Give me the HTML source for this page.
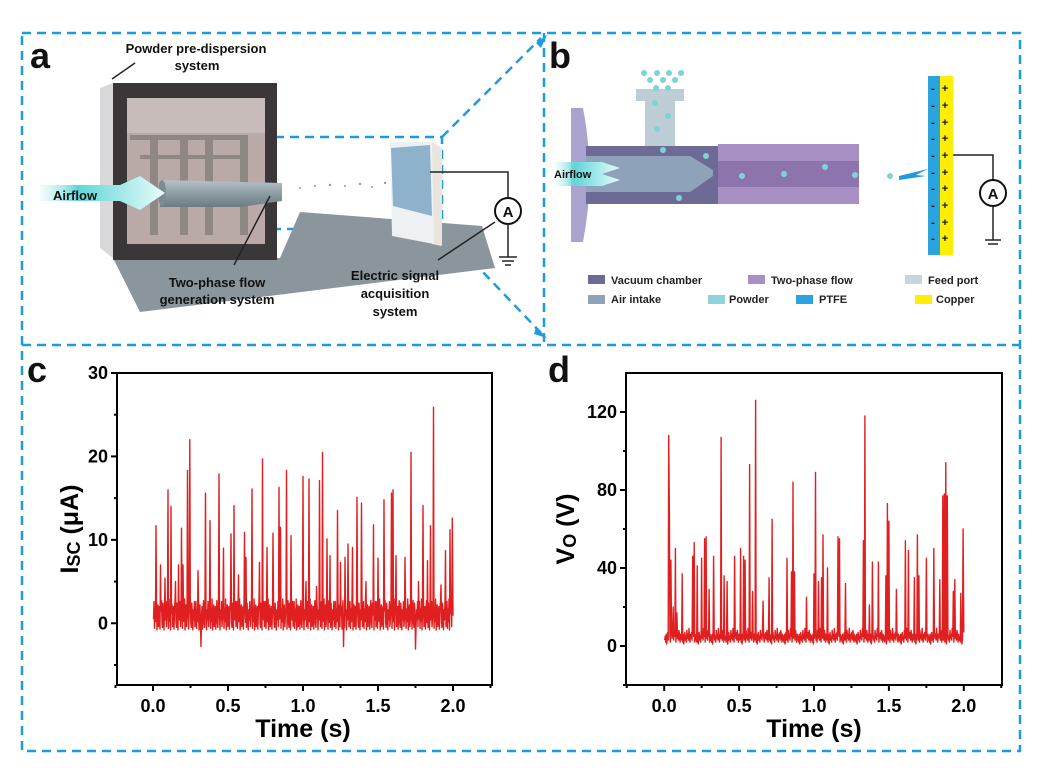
<!DOCTYPE html>
<html><head><meta charset="utf-8">
<style>
html,body{margin:0;padding:0;background:#fff;}
svg{display:block;font-family:"Liberation Sans",Arial,sans-serif;font-weight:bold;}
</style></head>
<body>
<svg id="fig" width="1038" height="774" viewBox="0 0 1038 774" xmlns="http://www.w3.org/2000/svg">
<defs>
<linearGradient id="airg" x1="0" x2="1" y1="0" y2="0"><stop offset="0" stop-color="#bfeef0" stop-opacity="0.2"/><stop offset="0.3" stop-color="#5fd6d8"/><stop offset="1" stop-color="#e8fbfb"/></linearGradient>
<linearGradient id="tubeg" x1="0" x2="0" y1="0" y2="1"><stop offset="0" stop-color="#b5c2c9"/><stop offset="0.5" stop-color="#8e9ca4"/><stop offset="1" stop-color="#6d7b83"/></linearGradient>
</defs>

<g fill="none" stroke="#1c9be0" stroke-width="2.5" stroke-dasharray="9,6">
<rect x="22" y="33" width="998" height="718"/>
<line x1="22" y1="345" x2="1020" y2="345"/>
<line x1="544" y1="33" x2="544" y2="345"/>
<rect x="155" y="137" width="287" height="92"/>
<line x1="442" y1="137" x2="541" y2="38"/>
<line x1="442" y1="229" x2="541" y2="333"/>
</g>
<path d="M536,43 L547,35 L541,48 Z" fill="#1c9be0"/>
<path d="M536,327 L547,338 L534,334 Z" fill="#1c9be0"/>

<g>
<polygon points="113,258 140,312 495,268 482,226 300,212 280,258" fill="#8b969c"/>
<polygon points="100,88 113,83 113,258 100,248" fill="#d9d9db"/>
<rect x="113" y="83" width="164" height="177" fill="#3b3638"/>
<rect x="127" y="98" width="138" height="146" fill="#b9aaa8"/>
<rect x="127" y="98" width="138" height="35" fill="#c8bcba"/>
<g fill="#8f8784"><rect x="150" y="135" width="8" height="100"/><rect x="180" y="135" width="8" height="100"/><rect x="205" y="135" width="8" height="100"/><rect x="240" y="135" width="8" height="100"/><rect x="140" y="155" width="100" height="4"/><rect x="130" y="135" width="115" height="5"/></g>
<polygon points="160,180 282,183 282,201 240,207 160,207" fill="url(#tubeg)"/>
<ellipse cx="162" cy="193" rx="4" ry="13" fill="#7e8b92"/>
<polygon points="40,185 120,185 140,176 165,193 140,210 120,201 40,201" fill="url(#airg)"/>
<text x="53" y="200" font-size="13" fill="#111">Airflow</text>
<g fill="#999"><circle cx="300" cy="188" r="1"/><circle cx="315" cy="186" r="1"/><circle cx="330" cy="185" r="1.2"/><circle cx="345" cy="186" r="1"/><circle cx="360" cy="184" r="1.2"/><circle cx="372" cy="187" r="1"/><circle cx="385" cy="183" r="1.2"/><circle cx="395" cy="186" r="1"/></g>
<polygon points="432,142 442,148 442,246 432,244" fill="#e9e4dc"/>
<polygon points="390,142 432,142 434,244 392,236" fill="#eef1f3"/>
<polygon points="391,148 430,145 432,216 393,206" fill="#8fb2cc"/>
<polyline points="430,172 508,172 508,198" fill="none" stroke="#222" stroke-width="1.5"/>
<circle cx="508" cy="211" r="13" fill="#fff" stroke="#111" stroke-width="2"/>
<text x="508" y="217" font-size="15" text-anchor="middle" fill="#111">A</text>
<line x1="508" y1="224" x2="508" y2="257" stroke="#222" stroke-width="1.5"/>
<line x1="499" y1="257" x2="517" y2="257" stroke="#222" stroke-width="1.5"/><line x1="502" y1="261" x2="514" y2="261" stroke="#222" stroke-width="1.5"/><line x1="505" y1="265" x2="511" y2="265" stroke="#222" stroke-width="1.5"/>
<g stroke="#222" stroke-width="1.5"><line x1="112" y1="79" x2="135" y2="63"/><line x1="270" y1="196" x2="234" y2="265"/><line x1="495" y1="222" x2="438" y2="260"/></g>
<text x="30" y="68" font-size="36" fill="#111">a</text>
<text x="196" y="53" font-size="13" text-anchor="middle" fill="#111">Powder pre-dispersion</text>
<text x="197" y="70" font-size="13" text-anchor="middle" fill="#111">system</text>
<text x="217" y="287" font-size="13" text-anchor="middle" fill="#111">Two-phase flow</text>
<text x="217" y="304" font-size="13" text-anchor="middle" fill="#111">generation system</text>
<text x="395" y="280" font-size="13" text-anchor="middle" fill="#111">Electric signal</text>
<text x="395" y="298" font-size="13" text-anchor="middle" fill="#111">acquisition</text>
<text x="395" y="316" font-size="13" text-anchor="middle" fill="#111">system</text>
</g>

<g>
<text x="549" y="68" font-size="36" fill="#111">b</text>
<path d="M571,108 L583,108 Q596,175 583,242 L571,242 Z" fill="#aaa3cf"/>
<rect x="636" y="89" width="48" height="12" fill="#bccdd6"/>
<rect x="645" y="100" width="30" height="50" fill="#bccdd6"/>
<rect x="586" y="146" width="132" height="58" fill="#6e6a96"/>
<polygon points="586,156 690,156 713,170 713,176 690,192 586,192" fill="#8ea2b9"/>
<rect x="718" y="144" width="141" height="60" fill="#a890c4"/>
<rect x="718" y="161" width="141" height="26" fill="#8e74ad"/>
<polygon points="556,162 602,162 620,168 602,174 620,180 602,186 556,186" fill="url(#airg)"/>
<text x="554" y="178" font-size="11" fill="#111">Airflow</text>
<g fill="#7fd2d6"><circle cx="644" cy="73" r="3"/><circle cx="657" cy="73" r="3"/><circle cx="669" cy="73" r="3"/><circle cx="681" cy="73" r="3"/><circle cx="650" cy="80" r="3"/><circle cx="663" cy="80" r="3"/><circle cx="675" cy="80" r="3"/><circle cx="656" cy="88" r="3"/><circle cx="668" cy="88" r="3"/><circle cx="655" cy="103" r="3"/><circle cx="668" cy="116" r="3"/><circle cx="657" cy="129" r="3"/><circle cx="663" cy="150" r="3"/><circle cx="706" cy="156" r="3"/><circle cx="679" cy="198" r="3"/><circle cx="742" cy="176" r="3"/><circle cx="784" cy="174" r="3"/><circle cx="825" cy="167" r="3"/><circle cx="855" cy="175" r="3"/><circle cx="890" cy="176" r="3"/></g>
<polygon points="899,176 928,169 916,175 926,176 899,180" fill="#1c9be0"/>
<rect x="928" y="76" width="12" height="179" fill="#2ba3de"/>
<rect x="940" y="76" width="13" height="179" fill="#ffee00"/>
<g font-size="11" fill="#111" text-anchor="middle">
<text x="933" y="92">-</text><text x="933" y="109">-</text><text x="933" y="126">-</text><text x="933" y="142">-</text><text x="933" y="159">-</text><text x="933" y="176">-</text><text x="933" y="192">-</text><text x="933" y="209">-</text><text x="933" y="226">-</text><text x="933" y="242">-</text>
<text x="945" y="92">+</text><text x="945" y="109">+</text><text x="945" y="126">+</text><text x="945" y="142">+</text><text x="945" y="159">+</text><text x="945" y="176">+</text><text x="945" y="192">+</text><text x="945" y="209">+</text><text x="945" y="226">+</text><text x="945" y="242">+</text>
</g>
<polyline points="953,155 993,155 993,180" fill="none" stroke="#222" stroke-width="1.5"/>
<circle cx="993" cy="193" r="13" fill="#fff" stroke="#111" stroke-width="2"/>
<text x="993" y="199" font-size="15" text-anchor="middle" fill="#111">A</text>
<line x1="993" y1="206" x2="993" y2="240" stroke="#222" stroke-width="1.5"/>
<line x1="985" y1="240" x2="1001" y2="240" stroke="#222" stroke-width="1.5"/><line x1="988" y1="244" x2="998" y2="244" stroke="#222" stroke-width="1.5"/>
<g font-size="11" fill="#222">
<rect x="588" y="275" width="17" height="9" fill="#6e6a96"/><text x="611" y="284">Vacuum chamber</text>
<rect x="748" y="275" width="17" height="9" fill="#a890c4"/><text x="771" y="284">Two-phase flow</text>
<rect x="905" y="275" width="17" height="9" fill="#c5d5de"/><text x="928" y="284">Feed port</text>
<rect x="588" y="295" width="17" height="9" fill="#8ea2b9"/><text x="611" y="303">Air intake</text>
<rect x="708" y="295" width="17" height="9" fill="#8fd4db"/><text x="729" y="303">Powder</text>
<rect x="796" y="295" width="17" height="9" fill="#2ba3de"/><text x="819" y="303">PTFE</text>
<rect x="915" y="295" width="17" height="9" fill="#ffee00"/><text x="936" y="303">Copper</text>
</g>
</g>

<text x="27" y="382" font-size="36" fill="#111">c</text>
<text x="548" y="382" font-size="36" fill="#111">d</text>
<g id="chartC"></g>
<g id="chartD"></g>
</svg>
<script>
const cSpikeT=[0.02,0.05,0.08,0.1,0.12,0.15,0.17,0.19,0.2,0.23,0.245,0.3,0.32,0.35,0.38,0.44,0.47,0.52,0.54,0.57,0.61,0.62,0.66,0.71,0.73,0.76,0.8,0.84,0.85,0.89,0.92,1.0,1.02,1.04,1.09,1.11,1.13,1.16,1.18,1.23,1.25,1.27,1.28,1.3,1.33,1.36,1.39,1.42,1.47,1.5,1.54,1.59,1.6,1.62,1.68,1.72,1.75,1.77,1.8,1.83,1.85,1.87,1.92,1.95,1.98,1.995];
const cSpikeV=[11.7,7,5.4,16,14,5,7,11.4,7,18.3,22,6.3,-2.8,15.6,12.3,17.9,9,10.7,14.1,5.8,10.9,7.9,16.1,7.3,19.7,9.1,10.8,16.3,11.5,18.3,10.5,17.6,5,17.3,4.4,17.1,20.5,10.1,8.1,13.5,7.3,-2.8,7.9,9.5,9.1,15.1,14.4,5,11.8,7.8,14.8,15.6,16,8.1,7.9,20.5,-3.1,5,14.1,7.5,11.7,25.9,4.6,8.7,11.2,12.6];
const cNoise=[0.5,2.6,-0.6,1.7,0.2,2.9,-0.8,1.2,2.2,-0.4,0.9,2.0,-0.7,1.5,2.7,0.1,-0.5,2.4,1.0,-0.8,1.6,0.4,2.6,-0.4];
const cYTicks=[0,10,20,30];
const cXTicks=[0.0,0.5,1.0,1.5,2.0];
const dSpikeT=[0.03,0.035,0.045,0.06,0.075,0.085,0.12,0.19,0.2,0.22,0.25,0.27,0.28,0.3,0.33,0.38,0.4,0.42,0.47,0.51,0.53,0.54,0.57,0.59,0.61,0.66,0.7,0.72,0.82,0.85,0.86,0.87,0.95,1.0,1.01,1.03,1.05,1.06,1.09,1.16,1.17,1.21,1.33,1.34,1.37,1.39,1.43,1.48,1.49,1.5,1.55,1.61,1.63,1.67,1.69,1.7,1.75,1.8,1.84,1.86,1.87,1.88,1.89,1.93,1.94,1.98,1.995];
const dSpikeV=[108,67,44,20,50,17,37,46,53,41,45,55,56,29,46,107,36,33,46,50,46,44,93,28,126,23,35,65,45,38,84,38,25,37,89,33,35,57,40,56,55,32,54,118,21,43,43,36,73,64,29,54,49,35,57,36,45,50,34,77,78,94,77,28,34,27,60];
const dBase=[3,5,2,6,1,4,7,3,5,2,8,4,6,3,9,5,2,6,4,7,3,8,5,2,6];
const dYTicks=[0,40,80,120];
const dXTicks=[0.0,0.5,1.0,1.5,2.0];

const NS='http://www.w3.org/2000/svg';
function mk(tag,attrs,parent){const e=document.createElementNS(NS,tag);for(const k in attrs)e.setAttribute(k,attrs[k]);parent.appendChild(e);return e;}

function drawChart(g,cfg){
  const xs=v=>cfg.x0+(v-cfg.xmin)/(cfg.xmax-cfg.xmin)*(cfg.x1-cfg.x0);
  const ys=v=>cfg.y1-(v-cfg.ymin)/(cfg.ymax-cfg.ymin)*(cfg.y1-cfg.y0);
  let pts=[];let prev=0;let ni=0;
  for(let i=0;i<cfg.st.length;i++){
    const t=cfg.st[i];
    const gap=t-prev;const n=Math.max(1,Math.round(gap/0.0035));
    for(let k=1;k<n;k++){pts.push([prev+gap*k/n,cfg.noise[ni%cfg.noise.length]]);ni++;}
    pts.push([t,cfg.sv[i]]);prev=t;
  }
  pts.push([2.0,cfg.noise[ni%cfg.noise.length]]);
  const line=mk('polyline',{points:pts.map(p=>xs(p[0]).toFixed(1)+','+ys(p[1]).toFixed(1)).join(' '),fill:'none',stroke:'#e02020','stroke-width':'1.4','stroke-linejoin':'round'},g);
  
  
  const fr=mk('rect',{x:cfg.x0,y:cfg.y0,width:cfg.x1-cfg.x0,height:cfg.y1-cfg.y0,fill:'none',stroke:'#000','stroke-width':'2'},g);
  
  
  for(const v of cfg.yt){
    const y=ys(v);
    mk('line',{x1:cfg.x0-6,x2:cfg.x0,y1:y,y2:y,stroke:'#000','stroke-width':'2'},g);
    const t=mk('text',{x:cfg.x0-9,y:y+6,'font-size':'18','text-anchor':'end',fill:'#000'},g);t.textContent=v;
    
    
  }
  for(const v of cfg.ym){const y=ys(v);mk('line',{x1:cfg.x0-3,x2:cfg.x0,y1:y,y2:y,stroke:'#000','stroke-width':'2'},g);}
  for(const v of cfg.xt){
    const x=xs(v);
    mk('line',{x1:x,x2:x,y1:cfg.y1,y2:cfg.y1+6,stroke:'#000','stroke-width':'2'},g);
    const t=mk('text',{x:x,y:cfg.y1+27,'font-size':'18','text-anchor':'middle',fill:'#000'},g);t.textContent=v.toFixed(1);
    
    
  }
  for(const v of [-0.25,0.25,0.75,1.25,1.75,2.25]){const x=xs(v);mk('line',{x1:x,x2:x,y1:cfg.y1,y2:cfg.y1+3,stroke:'#000','stroke-width':'2'},g);}
  const xt=mk('text',{x:(xs(0)+xs(2))/2,y:cfg.y1+52,'font-size':'25','text-anchor':'middle',fill:'#000'},g);xt.textContent='Time (s)';
  
  
  const yt=mk('text',{x:0,y:0,'font-size':'25','text-anchor':'middle',fill:'#000',transform:'translate('+cfg.ytx+','+((cfg.y0+cfg.y1)/2)+') rotate(-90)'},g);
  
  
  const a=mk('tspan',{},yt);a.textContent=cfg.ya;
  const b=mk('tspan',{'font-size':'18',dy:'2'},yt);b.textContent=cfg.yb;
  const c=mk('tspan',{dy:'-2'},yt);c.textContent=cfg.yc;
}
const gc=document.getElementById('chartC');


drawChart(gc,{name:'isc',x0:117,x1:492,y0:373,y1:685,xmin:-0.24,xmax:2.26,ymin:-7.4,ymax:30,st:cSpikeT,sv:cSpikeV,noise:cNoise,yt:cYTicks,ym:[-5,5,15,25],xt:cXTicks,ytx:78,ya:'I',yb:'SC',yc:' (μA)'});
const gd=document.getElementById('chartD');


drawChart(gd,{name:'vo',x0:626,x1:1002,y0:373,y1:685,xmin:-0.255,xmax:2.255,ymin:-20,ymax:140,st:dSpikeT,sv:dSpikeV,noise:dBase,yt:dYTicks,ym:[-20,20,60,100],xt:dXTicks,ytx:574,ya:'V',yb:'O',yc:' (V)'});
</script>
</body></html>
